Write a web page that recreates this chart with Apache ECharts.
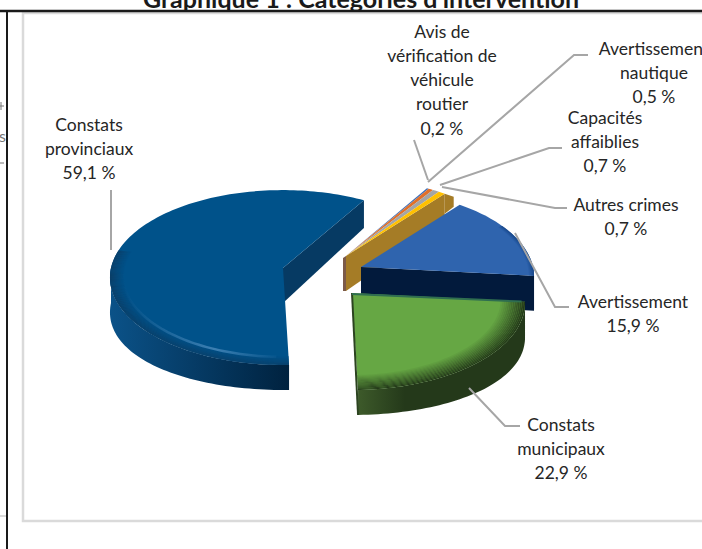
<!DOCTYPE html>
<html><head><meta charset="utf-8">
<style>html,body{margin:0;padding:0;background:#fff;overflow:hidden}#c{width:702px;height:549px}#c text{font-variant-ligatures:none}</style>
<script src="https://cdn.jsdelivr.net/npm/echarts@6/dist/echarts.min.js"></script>
</head><body><div id="c"></div>
<script>
// ---- data ----
const categories = ['Constats provinciaux','Avis de vérification de véhicule routier','Avertissement nautique','Capacités affaiblies','Autres crimes','Avertissement','Constats municipaux'];
const values = [59.1,0.2,0.5,0.7,0.7,15.9,22.9];
const labelLines = [['Constats','provinciaux'],['Avis de','vérification de','véhicule','routier'],['Avertissement','nautique'],['Capacités','affaiblies'],['Autres crimes'],['Avertissement'],['Constats','municipaux']];
// ---- styles and layout ----
const faceColors = ['#00528A','#3F6FB8','#E0702A','#A5A5A5','#FFC000','#2F64AE','#66A744'];
const wallLeft  = ['#0B5288','#2a4a80','#9a5a22','#777777','#A57C26','#0F3C78','#3D5A2A'];
const wallRight = ['#00223F','#2a4a80','#9a5a22','#777777','#A57C26','#0F3C78','#24391A'];
const cutColors = ['#063A63','#2a4a80','#9a5a22','#777777','#A57C26','#021A3C','#24391A'];
const apexes = [[283,268],[346,256],[346,256],[346,256],[346,256],[361,267],[352,293]];
const labelPos = [[89,124],[442,31],[654,48],[605,117],[626,204],[633,301],[561,424]];
const leaders = [
 [[111,190],[111,250]],
 [[414,140],[428,180]],
 [[428,182],[574,55],[588,55]],
 [[440,185],[549,148],[562,148]],
 [[442,187],[555,208],[567,208]],
 [[515,233],[555,307],[569,307]],
 [[469,388],[505,426],[520,426]]
];
const START_DEG = 178.2, RX = 172, RY = 86.4, PERSP = 0.109, DEPTH = 35;
const rad = d => d*Math.PI/180;
function topPt(a,deg,r){const u=r*Math.sin(rad(deg)),v=-r*Math.cos(rad(deg)),s=1/(1-PERSP*v);return [a[0]+RX*u*s,a[1]+RY*v*s];}
function botPt(a,deg){const p=topPt(a,deg,1),v=-Math.cos(rad(deg));return [p[0],p[1]+DEPTH-10*v*v];}
function arc(fn,d0,d1){const n=Math.max(2,Math.ceil(Math.abs(d1-d0)/1.5)),o=[];for(let i=0;i<=n;i++)o.push(fn(d0+(d1-d0)*i/n));return o;}
function mix(c1,c2,t){const h=c=>[1,3,5].map(i=>parseInt(c.substr(i,2),16));const a=h(c1),b=h(c2);return 'rgb('+a.map((x,i)=>Math.round(x+(b[i]-x)*t)).join(',')+')';}
const total = values.reduce((a,b)=>a+b,0);
const angles=[];{let c=START_DEG;values.forEach(v=>{angles.push(c>=360?c-360:c);c+=v/total*360;});}

function renderSlice(params,api){
  const i=params.dataIndex, val=api.value(0), a=apexes[i];
  const d0=angles[i], d1=d0+val/total*360, kids=[];
  const poly=(pts,fill)=>kids.push({type:'polygon',shape:{points:pts},style:{fill:fill}});
  // visible outer wall: the part of the arc in the front half
  const fl=Math.max(d0,90),ft=Math.min(d1,270);
  if(ft>fl){
    const up=arc(d=>topPt(a,d,1),fl,ft), lo=arc(d=>botPt(a,d),ft,fl);
    const g=i===0?{type:'linear',x:0,y:0,x2:1,y2:0,colorStops:[{offset:0,color:wallLeft[i]},{offset:1,color:wallRight[i]}]}
                 :{type:'linear',x:1,y:0,x2:0,y2:0,colorStops:[{offset:0,color:wallRight[i]},{offset:.72,color:wallRight[i]},{offset:1,color:wallLeft[i]}]};
    poly(up.concat(lo),g);
  }
  // cut walls facing the viewer
  const apexLow=[a[0],a[1]+DEPTH];
  if(i===0||i===4||i===5) poly([a,topPt(a,d1,1),botPt(a,d1),apexLow],cutColors[i]);
  if(i===4){
    const e=topPt(a,d1,1);
    poly([e,[e[0]+9,e[1]+3],[e[0]+9,e[1]+13],[e[0],e[1]+20]],cutColors[i]);
    poly([[a[0]-3,a[1]+2],a,apexLow,[a[0]-3,a[1]+DEPTH]],'#7C5A48');
  }
  // top face
  poly([a].concat(arc(d=>topPt(a,d,1),d0,d1)),faceColors[i]);
  // rounded rim on the front of the large slices
  if(i===0||i===5||i===6){
    const rIn=i===6?0.86:(i===0?0.92:0.97), bands=14;
    const f0=i===5?Math.max(d0,60):Math.max(d0,90), f1=Math.min(d1,i===0?282:270);
    for(let b=0;b<bands;b++){
      const r0=rIn+(1-rIn)*b/bands,r1=rIn+(1-rIn)*(b+1)/bands,t=(b+1)/bands;
      const col=i===0?mix('#00528A','#0B3F68',t):i===5?mix('#2F64AE','#123F7E',t):mix('#66A744','#24391A',t);
      poly(arc(d=>topPt(a,d,r0),f0,f1).concat(arc(d=>topPt(a,d,r1),f1,f0)),col);
    }
    if(i===0){
      kids.push({type:'polyline',shape:{points:arc(d=>topPt(a,d,0.925),f1-14,f0+4)},
        style:{fill:null,lineWidth:2.5,stroke:{type:'linear',x:0,y:0,x2:1,y2:0,colorStops:[{offset:0,color:'rgba(70,135,185,0)'},{offset:.6,color:'rgba(70,135,185,.85)'},{offset:1,color:'rgba(70,135,185,.1)'}]}}});
    }
  }
  if(i===6){
    kids.push({type:'polyline',shape:{points:[a,botPt(a,d1)]},style:{fill:null,stroke:'#2C4420',lineWidth:2}});
    kids.push({type:'polyline',shape:{points:[[a[0],a[1]+1],topPt(a,d0,0.98)]},style:{fill:null,stroke:'#2F6E50',lineWidth:2}});
  }
  return {type:'group',children:kids};
}

function renderLabel(params,api){
  const i=params.dataIndex, kids=[];
  kids.push({type:'polyline',shape:{points:leaders[i]},style:{fill:null,stroke:'#A6A6A6',lineWidth:2}});
  const txt=labelLines[i].concat([api.value(0).toFixed(1).replace('.',',')+' %']);
  txt.forEach((t,k)=>kids.push({type:'text',style:{text:t,x:labelPos[i][0],y:labelPos[i][1]+k*24.3,align:'center',verticalAlign:'middle',fill:'#262626',font:'17.5px Lato'}}));
  return {type:'group',children:kids};
}

const sliceData = categories.map((n,i)=>({name:n,value:[values[i]]}));
const chart=echarts.init(document.getElementById('c'),null,{renderer:'svg'});
chart.setOption({
  animation:false,backgroundColor:'#fff',
  title:{text:"Graphique 1 : Catégories d'intervention",left:356,top:-20,textAlign:'center',textStyle:{fontFamily:'Lato',fontSize:25,fontWeight:'bold',color:'#1a1a1a'}},
  graphic:[
    {type:'rect',shape:{x:23,y:13,width:700,height:508},style:{fill:'#fff',stroke:'#DADADA',lineWidth:2.5},z:-1},
    {type:'line',shape:{x1:0,y1:11,x2:702,y2:11},style:{stroke:'#1a1a1a',lineWidth:2.5},z:-1},
    {type:'line',shape:{x1:7,y1:11,x2:7,y2:549},style:{stroke:'#1a1a1a',lineWidth:2},z:-1},
    {type:'line',shape:{x1:0,y1:516,x2:6,y2:516},style:{stroke:'#DADADA',lineWidth:2},z:-1},
    {type:'line',shape:{x1:0,y1:163,x2:4,y2:163},style:{stroke:'#777777',lineWidth:1},z:-1},
    {type:'line',shape:{x1:0,y1:106,x2:4,y2:106},style:{stroke:'#777777',lineWidth:1},z:-1},
    {type:'line',shape:{x1:1,y1:102,x2:1,y2:110},style:{stroke:'#777777',lineWidth:1},z:-1},
    {type:'text',style:{text:'s',x:-1,y:127,fill:'#777777',font:'16px Lato'},z:-1}
  ],
  series:[
    {type:'custom',coordinateSystem:'none',renderItem:renderSlice,data:sliceData,silent:true,z:2},
    {type:'custom',coordinateSystem:'none',renderItem:renderLabel,data:sliceData,silent:true,z:3}
  ]
});
</script></body></html>
